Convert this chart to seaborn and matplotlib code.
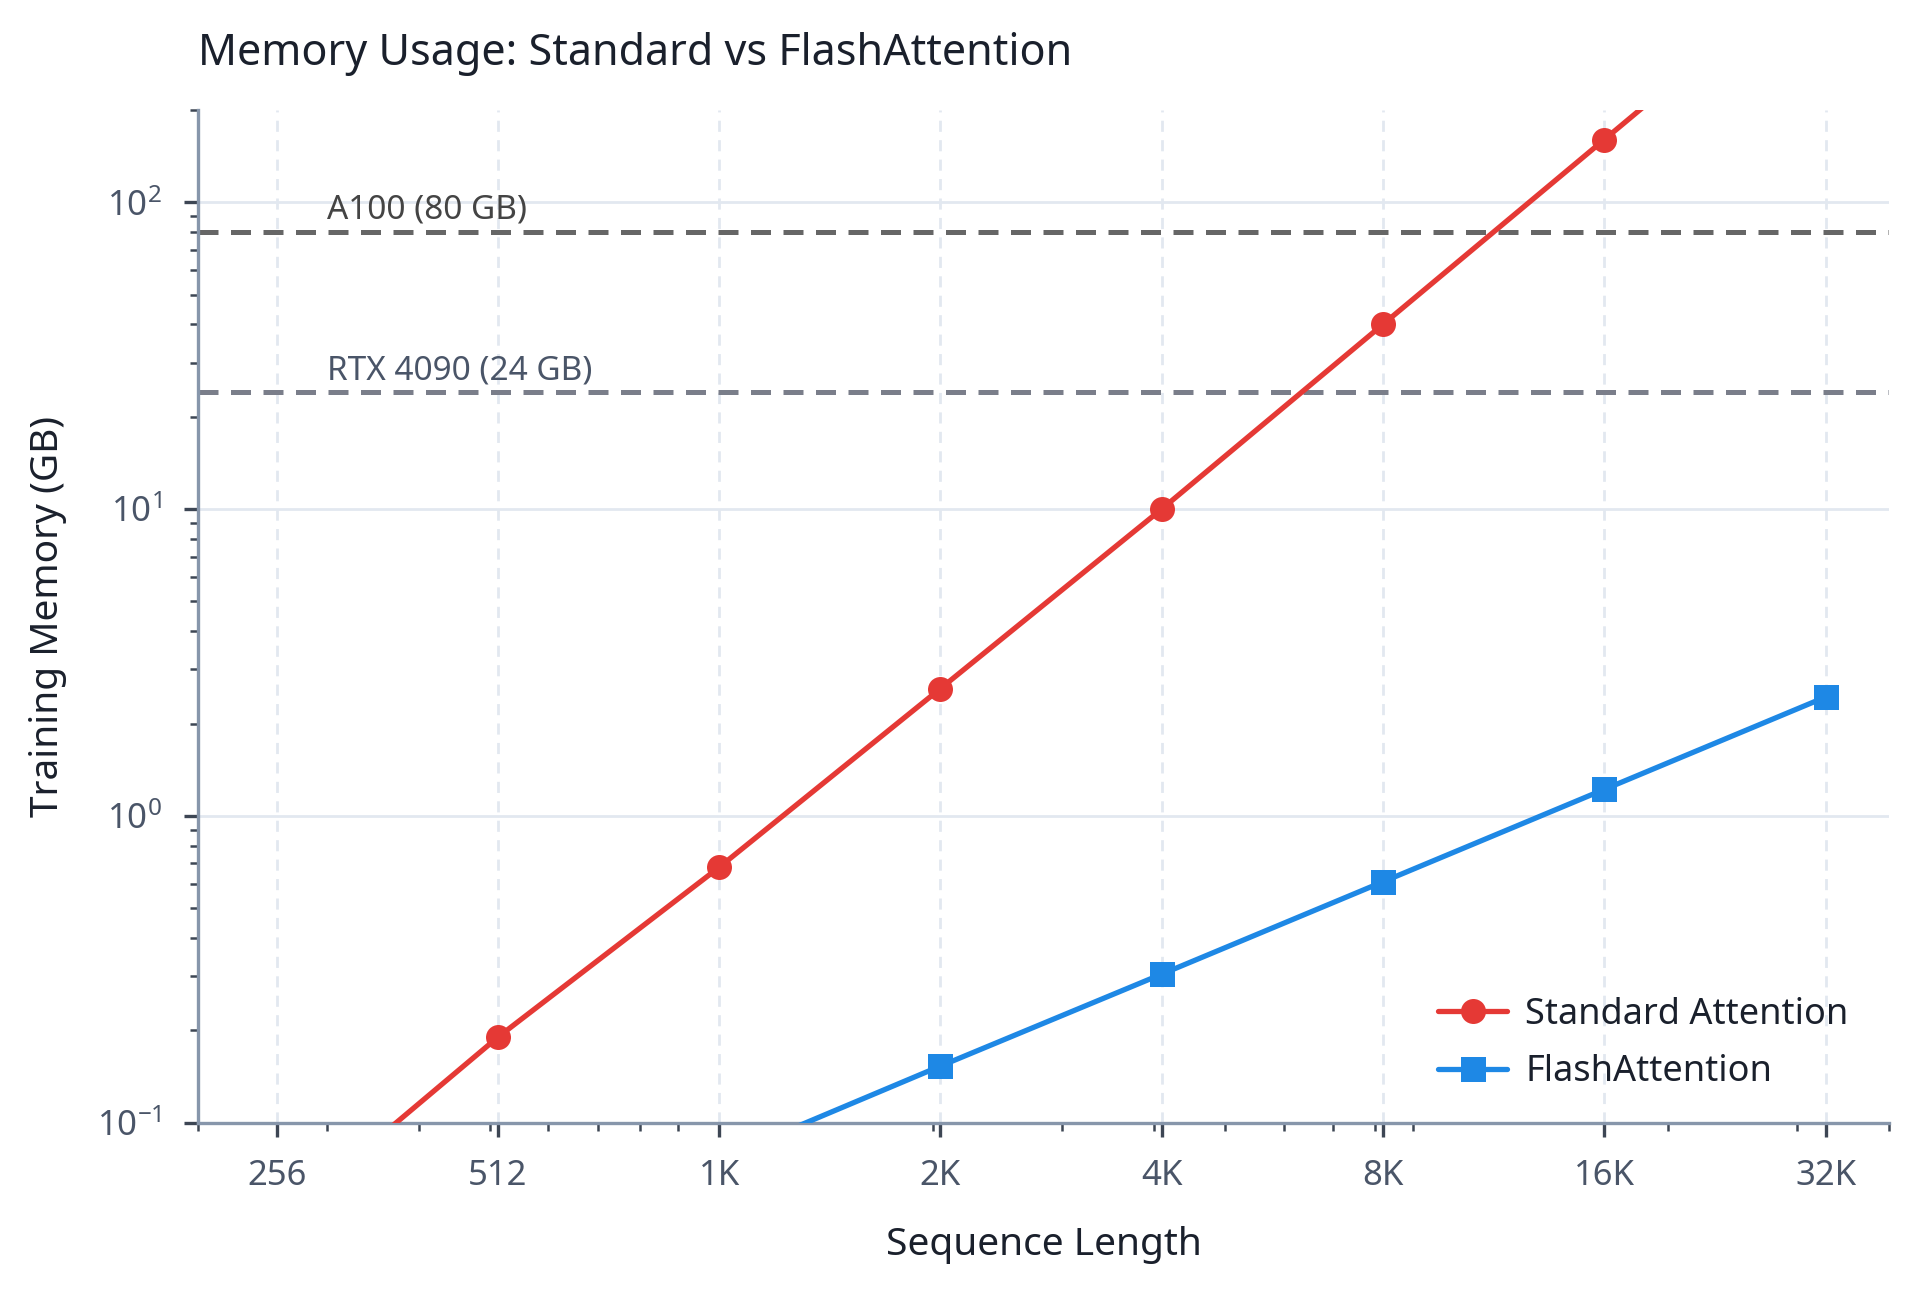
import matplotlib
matplotlib.use("Agg")
import matplotlib.pyplot as plt
import seaborn as sns
import pandas as pd

seq_lengths = [256, 512, 1024, 2048, 4096, 8192, 16384, 32768]
tick_labels = ["256", "512", "1K", "2K", "4K", "8K", "16K", "32K"]
standard_mem = [0.047, 0.19, 0.68, 2.6, 10.0, 40.0, 160.0, 640.0]
flash_mem = [0.019, 0.038, 0.076, 0.153, 0.305, 0.61, 1.22, 2.44]
gpu_names = ["A100 (80 GB)", "RTX 4090 (24 GB)"]
gpu_limits = [80, 24]

sns.set_theme(style="white")
plt.rcParams["font.family"] = ["Noto Sans", "DejaVu Sans"]

df = pd.DataFrame({
    "Sequence Length": seq_lengths * 2,
    "Memory": standard_mem + flash_mem,
    "Method": ["Standard Attention"] * len(seq_lengths) + ["FlashAttention"] * len(seq_lengths),
})

fig, ax = plt.subplots(figsize=(9.6, 6.46), dpi=200)
fig.subplots_adjust(left=0.103, right=0.984, top=0.915, bottom=0.131)

spine_col = "#8796ab"
tick_col = "#4a5568"

ax.set_xscale("log")
ax.set_yscale("log")

sns.lineplot(data=df, x="Sequence Length", y="Memory", hue="Method", style="Method",
             palette={"Standard Attention": "#e53935", "FlashAttention": "#1e88e5"},
             markers={"Standard Attention": "o", "FlashAttention": "s"},
             dashes=False, linewidth=1.9, markersize=9, markeredgewidth=0, ax=ax, zorder=3)

line_cols = ["#666666", "#7a7e8a"]
text_cols = ["#444444", "#4a5568"]
for name, lim, lc, tc in zip(gpu_names, gpu_limits, line_cols, text_cols):
    ax.axhline(lim, color=lc, linestyle=(0, (4, 2.5)), linewidth=1.8, zorder=2)
    ax.text(300, lim * 1.04, name, color=tc, fontsize=12, va="bottom", ha="left")

ax.set_xlim(200, 40000)
ax.set_ylim(0.1, 200)
ax.set_xticks(seq_lengths)
ax.set_xticklabels(tick_labels)

ax.grid(True, axis="x", which="major", linestyle=(0, (4, 3)), color="#e2e8f0", linewidth=1)
ax.grid(True, axis="y", which="major", linestyle="-", color="#e2e8f0", linewidth=1)
ax.grid(False, which="minor")
ax.set_axisbelow(True)

for s in ["top", "right"]:
    ax.spines[s].set_visible(False)
for s in ["left", "bottom"]:
    ax.spines[s].set_color(spine_col)
    ax.spines[s].set_linewidth(1.2)

ax.tick_params(axis="both", which="major", direction="out", length=5, width=1.2,
               color="#3d4654", labelcolor=tick_col, labelsize=12.5, pad=8, left=True, bottom=True)
ax.tick_params(axis="both", which="minor", direction="out", length=3, width=0.9,
               color="#3d4654", left=True, bottom=True)

ax.set_xlabel("Sequence Length", fontsize=14, color="#1a202c", labelpad=12)
ax.set_ylabel("Training Memory (GB)", fontsize=14, color="#1a202c", labelpad=11)
ax.set_title("Memory Usage: Standard vs FlashAttention", loc="left", fontsize=15.5,
             color="#1a202c", pad=16)

leg = ax.legend(loc="lower right", frameon=False, fontsize=13, title=None,
                bbox_to_anchor=(0.995, 0.0), handlelength=1.9, handletextpad=0.5,
                labelspacing=0.6)
for t in leg.get_texts():
    t.set_color("#1a202c")

fig.savefig("out.png", dpi=200)
